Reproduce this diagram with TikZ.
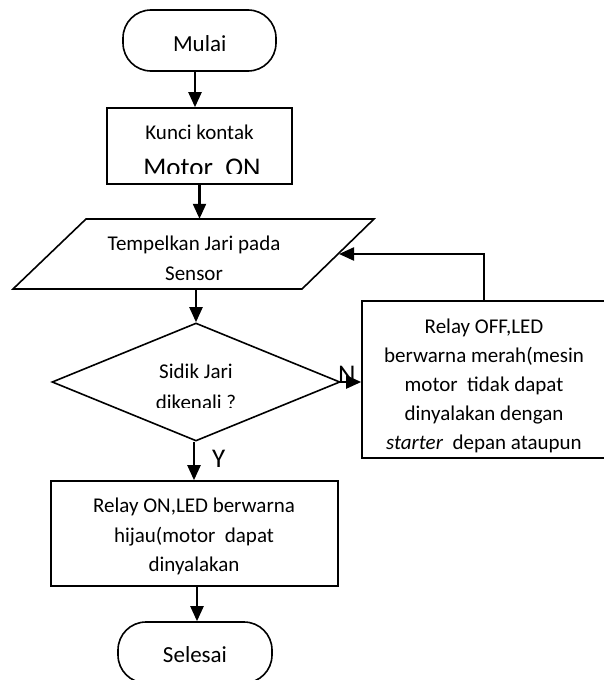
\documentclass[tikz,border=0pt]{standalone}
\usepackage{fontspec}
\setmainfont{Carlito}
\usetikzlibrary{arrows.meta,shapes.geometric}
\begin{document}
\begin{tikzpicture}[x=1pt,y=-1pt,
  shp/.style={draw, line width=1.6pt, inner sep=0pt},
  term/.style={shp, rounded corners=28pt, minimum width=153pt, minimum height=61pt},
  arr/.style={line width=2.2pt, -{Triangle[length=15pt,width=13pt]}},
  txt/.style={font=\fontsize{21}{25}\selectfont, anchor=base, inner sep=0pt},
  ttl/.style={font=\fontsize{23}{27}\selectfont, anchor=base, inner sep=0pt},
  big/.style={font=\fontsize{27}{31}\selectfont, anchor=base, inner sep=0pt},
  lbl/.style={font=\fontsize{27}{31}\selectfont, anchor=base west, inner sep=0pt}
]
\useasboundingbox (0,0) rectangle (604,680);
\clip (0,0) rectangle (604,680);
\fill[white] (0,0) rectangle (604,680);

% shapes
\node[term] (mulai) at (199.5,40.5) {};
\node[shp, minimum width=185pt, minimum height=76pt] (kunci) at (199.5,146) {};
\draw[line width=1.6pt] (86,219) -- (374,219) -- (302,289) -- (13,289) -- cycle;
\node[inner sep=0pt, minimum width=216pt, minimum height=70pt] (tempel) at (194,254) {};
\node[shp, shape=diamond, minimum width=288pt, minimum height=118pt] (dec) at (196,382) {};
\node[shp, minimum width=246pt, minimum height=157pt] (relayoff) at (485,379.5) {};
\node[shp, minimum width=287pt, minimum height=105pt] (relayon) at (194.5,533.5) {};
\node[term, minimum width=154pt] (selesai) at (195,652.5) {};
\coordinate (fb) at (339,254);

% texts
\node[ttl] (tmulai) at (199.7,51) {Mulai};
\node[txt] (tkunci) at (199.5,139) {Kunci kontak};
\begin{scope}
\clip (107,150) rectangle (292,173);
\node[big] (tmotor) at (202,176.5) {Motor\ \ ON};
\end{scope}
\node[txt] (ttem1) at (194,250) {Tempelkan Jari pada};
\node[txt] (ttem2) at (194,280) {Sensor};
\node[txt] (tsid1) at (196,378) {Sidik Jari};
\begin{scope}
\clip (100,385) rectangle (300,407);
\node[txt] (tsid2) at (196,409.5) {dikenali ?};
\end{scope}
\node[txt] (toff1) at (484,333) {Relay OFF,LED};
\node[txt] (toff2) at (484,362) {berwarna merah(mesin};
\node[txt] (toff3) at (484,391) {motor\ \ tidak dapat};
\node[txt] (toff4) at (484,420) {dinyalakan dengan};
\node[txt] (toff5) at (484,449) {\textit{starter}\ \ depan ataupun};
\node[txt] (ton1) at (194,512) {Relay ON,LED berwarna};
\node[txt] (ton2) at (194,542) {hijau(motor\ \ dapat};
\node[txt] (ton3) at (194,571) {dinyalakan};
\node[ttl] (tsel) at (195,662) {Selesai};
\node[lbl] (lN) at (338,383) {N};
\node[lbl] (lY) at (212,467) {Y};

% connectors
\draw[arr] ([xshift=-4.5pt]mulai.south) -- ([xshift=-4.5pt]mulai.south |- kunci.north);
\draw[arr] (kunci.south) -- (kunci.south |- tempel.north);
\draw[arr] (dec.north |- tempel.south) -- (dec.north);
\draw[arr] ([xshift=-2pt]dec.south) -- ([xshift=-2pt]dec.south |- relayon.north);
\draw[arr] ([xshift=2.5pt]relayon.south) -- ([xshift=2.5pt]relayon.south |- selesai.north);
\draw[arr] (dec.east) -- (dec.east -| relayoff.west);
\draw[arr] ([xshift=-1pt]relayoff.north) |- (fb);
\end{tikzpicture}
\end{document}
